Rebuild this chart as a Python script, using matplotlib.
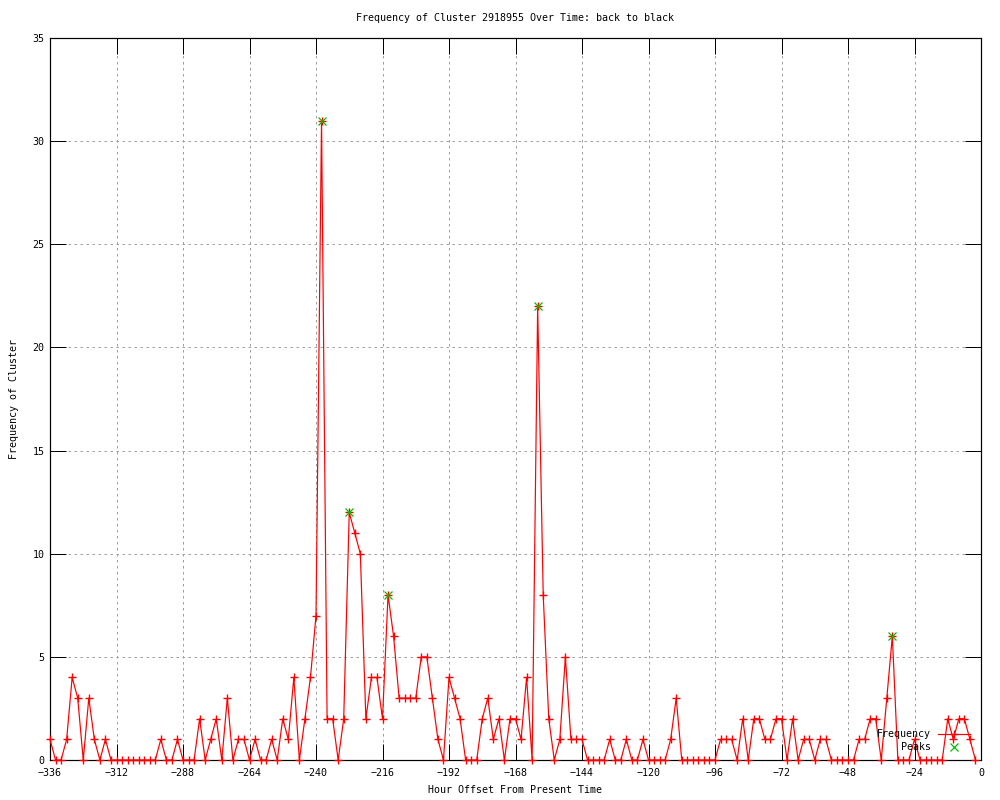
#!/usr/bin/env python3
# -*- coding: utf-8 -*-
"""
Cluster frequency chart (gnuplot-like look)
- frequency per 2 hour bin, red line + '+' points
- detected peaks, green 'x'
"""

import matplotlib
matplotlib.use('Agg')
import matplotlib.pyplot as plt
import numpy as np

# hour offsets (2 hour bins) and counts
hours_start = -336
hours_step = 2
frequency = [
    1, 0, 0, 1, 4, 3, 0, 3, 1, 0, 1, 0, 0, 0, 0, 0, 0, 0, 0, 0,
    1, 0, 0, 1, 0, 0, 0, 2, 0, 1, 2, 0, 3, 0, 1, 1, 0, 1, 0, 0,
    1, 0, 2, 1, 4, 0, 2, 4, 7, 31, 2, 2, 0, 2, 12, 11, 10, 2, 4, 4,
    2, 8, 6, 3, 3, 3, 3, 5, 5, 3, 1, 0, 4, 3, 2, 0, 0, 0, 2, 3,
    1, 2, 0, 2, 2, 1, 4, 0, 22, 8, 2, 0, 1, 5, 1, 1, 1, 0, 0, 0,
    0, 1, 0, 0, 1, 0, 0, 1, 0, 0, 0, 0, 1, 3, 0, 0, 0, 0, 0, 0,
    0, 1, 1, 1, 0, 2, 0, 2, 2, 1, 1, 2, 2, 0, 2, 0, 1, 1, 0, 1,
    1, 0, 0, 0, 0, 0, 1, 1, 2, 2, 0, 3, 6, 0, 0, 0, 1, 0, 0, 0,
    0, 0, 2, 1, 2, 2, 1, 0,
]
peak_hours = [-238, -228, -214, -160, -32]
peak_values = [31, 12, 8, 22, 6]

x_ticks = list(range(-336, 1, 24))
y_ticks = list(range(0, 36, 5))

title = 'Frequency of Cluster 2918955 Over Time: back to black'
x_label = 'Hour Offset From Present Time'
y_label = 'Frequency of Cluster'

FONT = 'DejaVu Sans Mono'
FS = 7.2
PX = 0.72  # 1 pixel in points at dpi 100


def main():
    hours = hours_start + hours_step * np.arange(len(frequency))

    fig = plt.figure(figsize=(10, 8), dpi=100)
    ax = fig.add_axes([0.050, 0.05, 0.931, 0.9025])

    # grid (dotted gray, like gnuplot)
    for xt in x_ticks[1:-1]:
        ax.axvline(xt, color='#a0a0a0', linestyle=(0, (2.5, 3.5)), linewidth=PX, zorder=1)
    for yt in y_ticks[1:-1]:
        ax.axhline(yt, color='#a0a0a0', linestyle=(0, (2.5, 3.5)), linewidth=PX, zorder=1)

    # frequency line
    ax.plot(hours, frequency, color='#ff0000', linewidth=PX * 1.2, marker='+',
            markersize=6, markeredgewidth=1.0, label='Frequency', zorder=3,
            clip_on=False)

    # peaks
    ax.plot(peak_hours, peak_values, linestyle='none', color='#00c000', marker='x',
            markersize=5.5, markeredgewidth=0.9, label='Peaks', zorder=4,
            clip_on=False)

    ax.set_xlim(-336, 0)
    ax.set_ylim(0, 35)
    ax.set_xticks(x_ticks)
    ax.set_yticks(y_ticks)
    ax.set_xticklabels([str(t).replace('-', '\u2212') for t in x_ticks],
                       fontfamily=FONT, fontsize=FS)
    ax.set_yticklabels([str(t) for t in y_ticks], fontfamily=FONT, fontsize=FS)
    ax.tick_params(direction='in', length=11.5, width=PX, top=True, right=True,
                   pad=4)
    ax.tick_params(axis='x', pad=6)
    for sp in ax.spines.values():
        sp.set_linewidth(PX * 1.2)

    ax.set_title(title, fontfamily=FONT, fontsize=FS, pad=12)
    ax.set_xlabel(x_label, fontfamily=FONT, fontsize=FS, labelpad=5)
    ax.set_ylabel(y_label, fontfamily=FONT, fontsize=FS, labelpad=10)

    # legend in bottom right, no frame, text before sample
    leg = ax.legend(loc='lower right', bbox_to_anchor=(0.970, 0.060),
                    bbox_transform=fig.transFigure, frameon=False,
                    markerfirst=False, handlelength=3.2, handletextpad=0.7,
                    labelspacing=0.3, borderpad=0, borderaxespad=0,
                    prop={'family': FONT, 'size': FS})
    leg.set_zorder(5)

    fig.savefig('out.png', dpi=100, facecolor='white')
    plt.close(fig)


if __name__ == '__main__':
    main()
